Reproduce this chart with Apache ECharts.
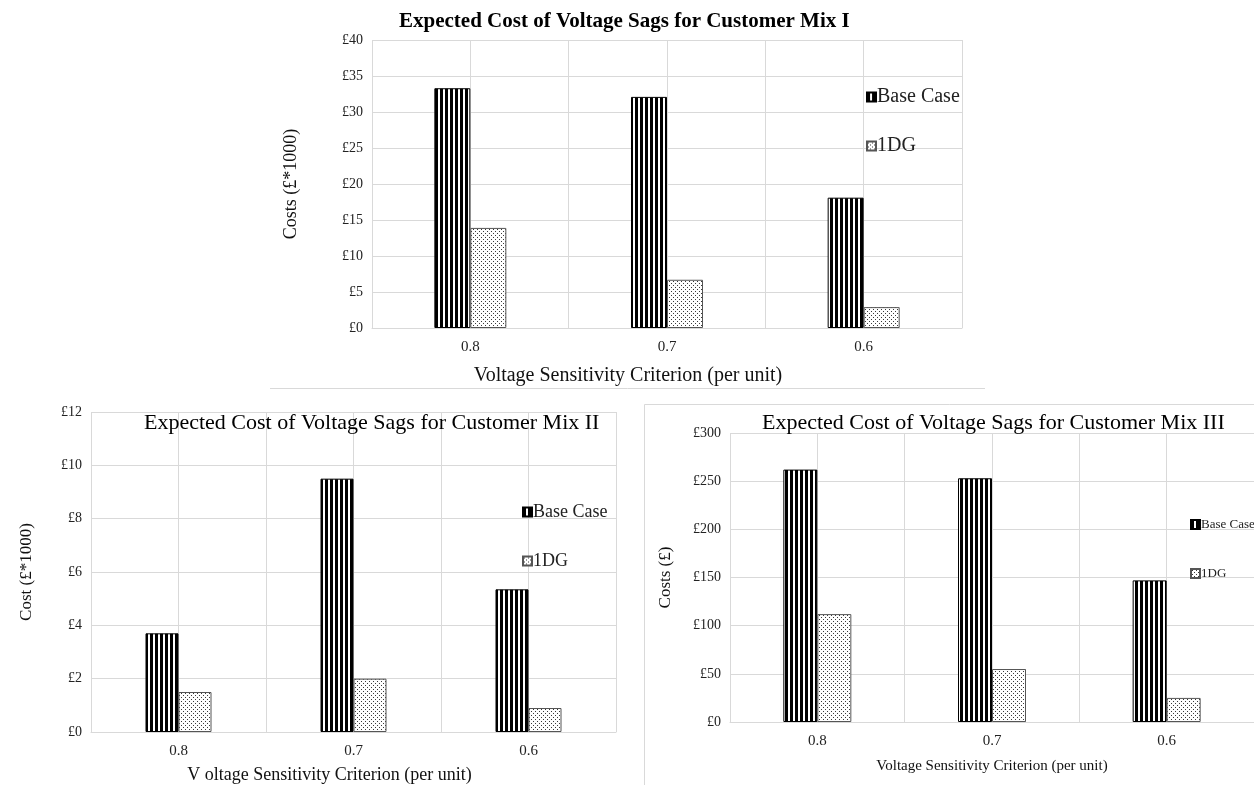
<!DOCTYPE html>
<html style="height: 100%">
   <head>
       <meta charset="utf-8">
   </head>
   <body style="height: 100%; margin: 0; background: #fff">
       <div id="container" style="width: 1254px; height: 785px"></div>
       <script type="text/javascript" src="https://cdn.jsdelivr.net/npm/echarts@6/dist/echarts.min.js"></script>
       <script type="text/javascript">
var categories = ['0.8', '0.7', '0.6'];
var seriesNames = ['Base Case', '1DG'];
var titles = [
    'Expected Cost of Voltage Sags for Customer Mix I',
    'Expected Cost of Voltage Sags for Customer Mix II',
    'Expected Cost of Voltage Sags for Customer Mix III'
];
var yNames = ['Costs (£*1000)', 'Cost (£*1000)', 'Costs (£)'];
var xNames = [
    'Voltage Sensitivity Criterion (per unit)',
    'V oltage Sensitivity Criterion (per unit)',
    'Voltage Sensitivity Criterion (per unit)'
];

var mix1Base = [33.3, 32.1, 18.1];
var mix1DG = [13.9, 6.7, 2.9];
var mix2Base = [3.7, 9.5, 5.35];
var mix2DG = [1.5, 2.0, 0.9];
var mix3Base = [262, 253, 147];
var mix3DG = [112, 55, 25];

var yMax = [40, 12, 300];
var yStep = [5, 2, 50];

var dom = document.getElementById("container");
var myChart = echarts.init(dom);
var font = 'Liberation Serif';

// bar fills: vertical stripes and dots
function stripeTile() {
    var c = document.createElement('canvas');
    c.width = 5; c.height = 4;
    var ctx = c.getContext('2d');
    ctx.fillStyle = '#fff';
    ctx.fillRect(0, 0, 5, 4);
    ctx.fillStyle = '#000';
    ctx.fillRect(0, 0, 3, 4);
    return c;
}
function dotTile() {
    var c = document.createElement('canvas');
    c.width = 4; c.height = 4;
    var ctx = c.getContext('2d');
    ctx.fillStyle = '#fff';
    ctx.fillRect(0, 0, 4, 4);
    ctx.fillStyle = '#3a3a3a';
    ctx.fillRect(1, 1, 1, 1);
    ctx.fillRect(3, 3, 1, 1);
    return c;
}
var stripeFill = {image: stripeTile(), repeat: 'repeat'};
var dotFill = {image: dotTile(), repeat: 'repeat'};

var grids = [
    {left: 372, top: 40, width: 590, height: 288},
    {left: 91, top: 412, width: 525, height: 321},
    {left: 730, top: 433, width: 524, height: 289}
];
var legendPos = [
    {left: 861, top: 82, itemGap: 29, size: 20},
    {left: 517, top: 498, itemGap: 31, size: 18},
    {left: 1185, top: 513, itemGap: 36, size: 13}
];
var titlePos = [
    {left: 394, top: 6, size: 21, weight: 'bold'},
    {left: 139, top: 407, size: 22, weight: 'normal'},
    {left: 757, top: 407, size: 22, weight: 'normal'}
];
var barWidths = [36, 33, 34];
var yNameGap = [72, 56, 56];
var yNameSize = [18, 17, 17];
var xNameGap = [38, 34, 37];
var xNameSize = [20, 18, 15];
var xNameShift = [78, 48, 0];
var baseData = [mix1Base, mix2Base, mix3Base];
var dgData = [mix1DG, mix2DG, mix3DG];

var option = {
    backgroundColor: '#fff',
    animation: false,
    title: [],
    legend: [],
    grid: grids,
    xAxis: [],
    yAxis: [],
    series: [],
    graphic: [
        {type: 'line', shape: {x1: 270, y1: 388.5, x2: 985, y2: 388.5},
         style: {stroke: '#d9d9d9', lineWidth: 1}},
        {type: 'rect', shape: {x: 644.5, y: 404.5, width: 620, height: 400},
         style: {fill: 'none', stroke: '#d9d9d9', lineWidth: 1}}
    ]
};

for (var i = 0; i < 3; i++) {
    option.title.push({
        text: titles[i],
        left: titlePos[i].left,
        top: titlePos[i].top,
        textStyle: {fontFamily: font, fontSize: titlePos[i].size, fontWeight: titlePos[i].weight, color: '#000'}
    });
    option.legend.push({
        data: seriesNames.map(function (n) { return n + ' ' + (i + 1); }),
        formatter: function (n) { return n.replace(/ \d$/, ''); },
        orient: 'vertical',
        left: legendPos[i].left,
        top: legendPos[i].top,
        itemGap: legendPos[i].itemGap,
        itemWidth: 9,
        itemHeight: 9,
        icon: 'rect',
        selectedMode: false,
        textStyle: {fontFamily: font, fontSize: legendPos[i].size, color: '#222', padding: [0, 0, 0, -4]}
    });
    option.xAxis.push({
        type: 'category',
        gridIndex: i,
        data: categories,
        name: xNames[i],
        nameLocation: 'middle',
        nameGap: xNameGap[i],
        nameTextStyle: {fontFamily: font, fontSize: xNameSize[i], color: '#111', padding: [0, xNameShift[i], 0, 0]},
        axisLine: {show: true, lineStyle: {color: '#d9d9d9'}},
        axisTick: {show: false},
        axisLabel: {fontFamily: font, fontSize: 15, color: '#222', margin: 12},
        splitLine: {show: false}
    });
    // vertical gridlines at half-category spacing
    option.xAxis.push({
        type: 'value',
        gridIndex: i,
        min: 0,
        max: 6,
        interval: 1,
        position: 'bottom',
        axisLine: {show: false},
        axisTick: {show: false},
        axisLabel: {show: false},
        splitLine: {show: true, lineStyle: {color: '#d9d9d9', width: 1}}
    });
    option.yAxis.push({
        type: 'value',
        gridIndex: i,
        min: 0,
        max: yMax[i],
        interval: yStep[i],
        name: yNames[i],
        nameLocation: 'middle',
        nameRotate: 90,
        nameGap: yNameGap[i],
        nameTextStyle: {fontFamily: font, fontSize: yNameSize[i], color: '#111'},
        axisLine: {show: false},
        axisTick: {show: false},
        axisLabel: {
            fontFamily: font, fontSize: 14, color: '#222', margin: 9,
            formatter: function (v) { return '£' + v; }
        },
        splitLine: {show: true, lineStyle: {color: '#d9d9d9', width: 1}}
    });
    option.series.push({
        name: seriesNames[0] + ' ' + (i + 1),
        type: 'bar',
        xAxisIndex: i * 2,
        yAxisIndex: i,
        data: baseData[i],
        barWidth: barWidths[i],
        barGap: '0%',
        itemStyle: {color: stripeFill, borderColor: '#000', borderWidth: 1}
    });
    option.series.push({
        name: seriesNames[1] + ' ' + (i + 1),
        type: 'bar',
        xAxisIndex: i * 2,
        yAxisIndex: i,
        data: dgData[i],
        barWidth: barWidths[i],
        barGap: '0%',
        itemStyle: {color: dotFill, borderColor: '#555', borderWidth: 1}
    });
}

if (option && typeof option === "object") {
    myChart.setOption(option, true);
}
       </script>
   </body>
</html>
